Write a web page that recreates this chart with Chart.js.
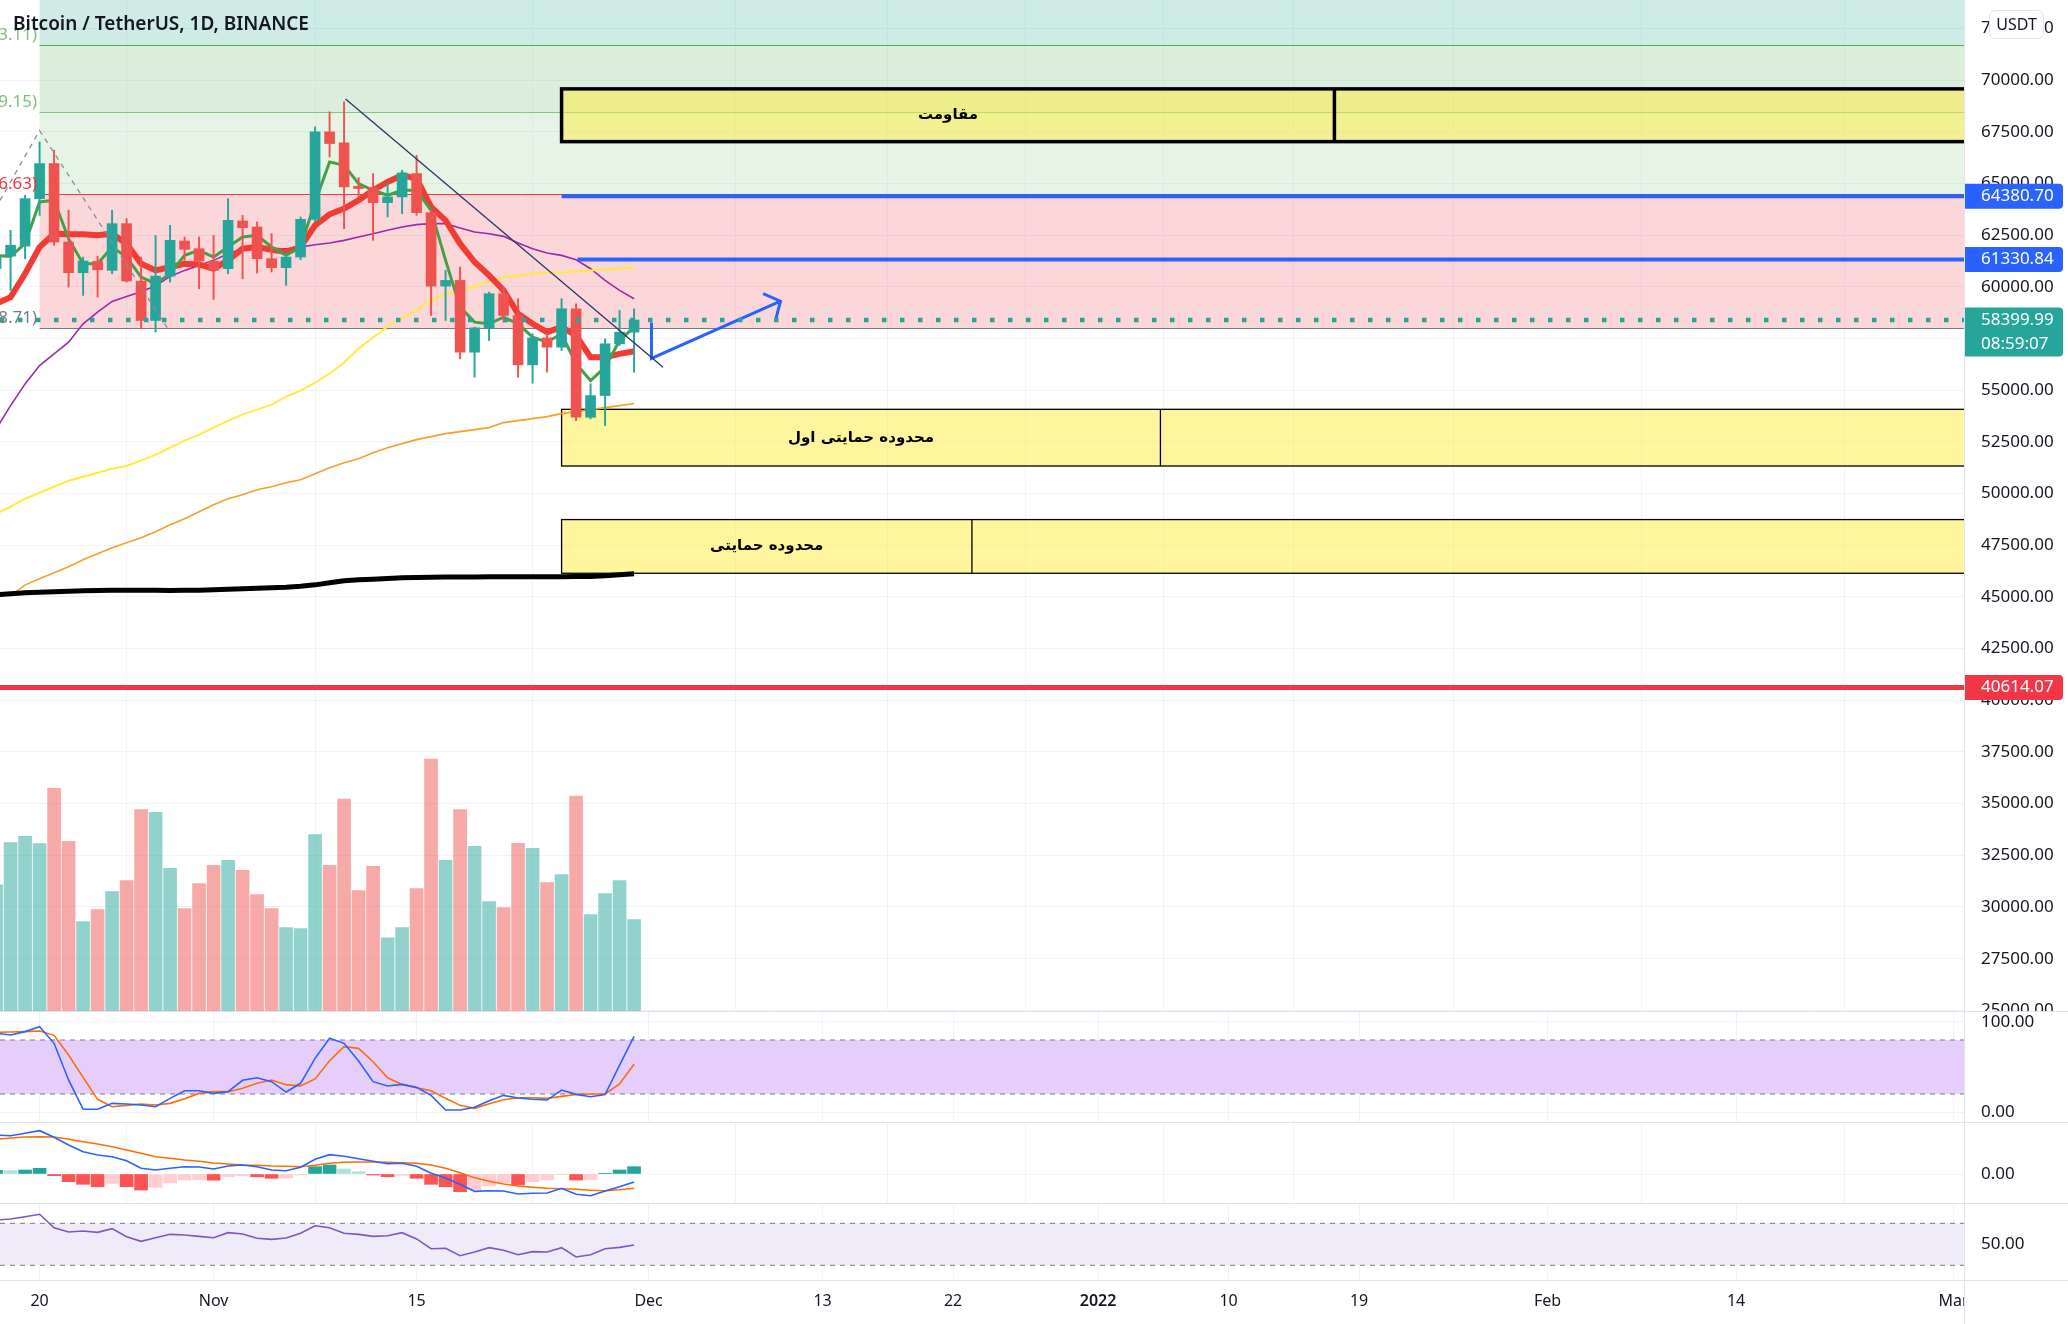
<!DOCTYPE html>
<html>
<head>
<meta charset="utf-8">
<title>BTCUSDT 1D</title>
<script src="https://cdn.jsdelivr.net/npm/chart.js@4.4.1/dist/chart.umd.min.js"></script>
<style>
  html, body { margin: 0; padding: 0; background: #ffffff; }
  #wrap { position: relative; width: 2068px; height: 1324px; overflow: hidden; background: #ffffff; }
  #wrap canvas { position: absolute; left: 0; }
</style>
</head>
<body>
<div id="wrap">
  <canvas id="mainPane" width="2068" height="1012" style="top:0px"></canvas>
  <canvas id="stochPane" width="2068" height="111" style="top:1012px"></canvas>
  <canvas id="macdPane" width="2068" height="81" style="top:1123px"></canvas>
  <canvas id="rsiPane" width="2068" height="120" style="top:1204px"></canvas>
</div>
<script>
// candles, one per day
const dates = [
  '2021-10-17', '2021-10-18', '2021-10-19', '2021-10-20', '2021-10-21', '2021-10-22', '2021-10-23',
  '2021-10-24', '2021-10-25', '2021-10-26', '2021-10-27', '2021-10-28', '2021-10-29', '2021-10-30',
  '2021-10-31', '2021-11-01', '2021-11-02', '2021-11-03', '2021-11-04', '2021-11-05', '2021-11-06',
  '2021-11-07', '2021-11-08', '2021-11-09', '2021-11-10', '2021-11-11', '2021-11-12', '2021-11-13',
  '2021-11-14', '2021-11-15', '2021-11-16', '2021-11-17', '2021-11-18', '2021-11-19', '2021-11-20',
  '2021-11-21', '2021-11-22', '2021-11-23', '2021-11-24', '2021-11-25', '2021-11-26', '2021-11-27',
  '2021-11-28', '2021-11-29', '2021-11-30'
];
const openP = [60900, 61493, 61977, 64271, 65967, 62171, 60685, 61235, 60799, 63060, 60282, 58376, 60524, 62220, 61848,
  61250, 60880, 63189, 62898, 61364, 60928, 61444, 63270, 67501, 66968, 64868, 64804, 64077, 64352, 65482,
  63592, 60040, 60314, 56842, 58020, 59668, 58618, 56228, 57536, 57084, 58941, 53692, 54742, 57246, 57810];
const highP = [61800, 62736, 64432, 67016, 66613, 63705, 61444, 61477, 63705, 63302, 61444, 62494, 62979, 62413, 62413,
  62494, 64271, 63463, 63140, 62575, 61606, 63383, 67743, 68470, 68954, 65288, 65482, 64998, 65643, 66370,
  63705, 60798, 60960, 58053, 59749, 59991, 59426, 57730, 57730, 59426, 59184, 55308, 57488, 58860, 58941];
const lowP = [60500, 59830, 61364, 63463, 62010, 59991, 59588, 59507, 60637, 60233, 57972, 57811, 60233, 61283, 59910,
  59394, 60637, 60395, 60669, 60718, 60072, 61315, 63140, 66290, 62817, 64352, 62252, 63383, 63544, 63463,
  58618, 58376, 56519, 55630, 57407, 58295, 55630, 55340, 55873, 56923, 53531, 53612, 53289, 57165, 55873];
const closeP = [61450, 62010, 64271, 65967, 62171, 60685, 61251, 60831, 63060, 60282, 58376, 60524, 62252, 61816, 61251,
  60800, 63221, 62866, 61364, 60928, 61444, 63270, 67501, 66936, 64836, 64755, 64077, 64352, 65514, 63592,
  60040, 60314, 56842, 58020, 59668, 58618, 56228, 57536, 57084, 58941, 53692, 54742, 57246, 57810, 58400];
const volume = [40540, 53980, 56000, 53660, 71260, 54400, 28800, 32640, 38400, 41920, 64540, 63680, 45760, 32960, 40960,
  46720, 48320, 45120, 37440, 32960, 26880, 26560, 56540, 46720, 67840, 38720, 46400, 23680, 26880, 39360,
  80640, 48320, 64540, 52800, 35200, 33280, 53760, 52160, 41280, 43840, 68800, 31040, 37760, 41920, 29440];

// moving averages on the price pane
const emaFast = [61525, 61477, 62090, 64109, 64190, 62333, 61122, 61122, 61929, 61445, 60476, 60153, 60637, 61525, 61767,
  61445, 61929, 62414, 62494, 61929, 61525, 61929, 64109, 66047, 65886, 64998, 64675, 64432, 64675, 64675,
  63705, 61283, 59022, 58295, 58215, 58537, 58215, 57569, 57326, 57731, 56277, 55469, 56115, 57407, 58053];
const emaSlow = [59184, 59506, 60637, 61929, 62575, 62543, 62543, 62494, 62575, 62090, 61122, 60799, 60960, 61122, 61090,
  60880, 61283, 61848, 61929, 61800, 61687, 61929, 62979, 63512, 63786, 64190, 64675, 65078, 65401, 65240,
  63867, 63221, 62090, 61202, 60556, 59830, 58699, 58215, 57811, 58053, 57649, 56600, 56600, 56761, 56890];
const maPurple = [53127, 54257, 55308, 56196, 56761, 57326, 58214, 58780, 59297, 59539, 59765, 60056, 60508, 60799, 61041,
  61283, 61606, 61848, 61848, 61848, 61848, 61929, 62042, 62123, 62252, 62414, 62575, 62737, 62898, 63011,
  63060, 63060, 62850, 62656, 62575, 62446, 62123, 61848, 61638, 61525, 61315, 60879, 60314, 59830, 59426];
const maYellow = [49025, 49364, 49752, 50043, 50333, 50624, 50818, 51012, 51206, 51351, 51593, 51884, 52223, 52562, 52853,
  53192, 53531, 53822, 54064, 54306, 54694, 54985, 55373, 55808, 56341, 57020, 57553, 58085, 58473, 58861,
  59345, 59636, 59830, 60023, 60266, 60460, 60556, 60653, 60702, 60702, 60750, 60799, 60847, 60896, 60944];
const maOrange = [null, 45052, 45585, 45876, 46167, 46457, 46796, 47087, 47378, 47620, 47862, 48153, 48492, 48783, 49122,
  49461, 49752, 49946, 50188, 50333, 50527, 50672, 50963, 51254, 51496, 51690, 51981, 52223, 52417, 52610,
  52756, 52901, 52998, 53095, 53192, 53434, 53531, 53628, 53725, 53870, 53967, 54064, 54161, 54258, 54355];
const maBlack = [45101, 45150, 45198, 45222, 45246, 45271, 45295, 45309, 45329, 45329, 45329, 45319, 45314, 45319, 45329,
  45343, 45367, 45392, 45416, 45440, 45464, 45513, 45585, 45683, 45779, 45828, 45862, 45896, 45925, 45939,
  45958, 45962, 45966, 45970, 45972, 45975, 45977, 45979, 45980, 45982, 45984, 45986, 46021, 46070, 46118];

// indicators
const stochK = [87.4, 85.6, 89.3, 94.8, 76.3, 35.6, 3.0, 3.0, 9.6, 8.9, 7.8, 5.9, 15.2, 23.7, 23.7,
  20.7, 22.6, 35.2, 38.1, 33.7, 22.2, 31.9, 59.6, 81.9, 76.3, 56.7, 33.7, 28.9, 30.7, 27.4,
  18.5, 2.2, 2.2, 5.2, 12.6, 18.5, 15.6, 14.1, 13.3, 24.4, 19.6, 17.0, 19.3, 52.0, 84.0];
const stochD = [88.5, 88.9, 89.3, 90.0, 85.2, 63.3, 38.5, 14.1, 5.9, 7.4, 8.9, 7.8, 9.6, 14.8, 20.7,
  22.6, 22.6, 26.3, 31.9, 35.6, 30.4, 28.9, 36.7, 57.0, 72.6, 70.7, 55.9, 38.1, 30.7, 27.0,
  23.7, 15.2, 7.4, 4.1, 9.3, 13.7, 15.9, 15.9, 15.2, 17.4, 19.6, 20.0, 20.0, 31.1, 53.0];
const macdLine = [975, 958, 1017, 1083, 917, 725, 558, 475, 433, 333, 142, 100, 142, 183, 175,
  125, 200, 225, 183, 100, 83, 167, 367, 483, 442, 383, 317, 258, 267, 192,
  17, -100, -258, -433, -417, -425, -500, -483, -475, -358, -508, -542, -425, -317, -200];
const macdSignal = [867, 900, 925, 933, 925, 867, 808, 750, 683, 600, 517, 433, 392, 350, 317,
  275, 250, 225, 217, 200, 192, 183, 217, 267, 292, 300, 300, 292, 283, 267,
  225, 142, 33, -92, -183, -250, -300, -333, -358, -367, -383, -408, -417, -392, -358];
const macdHist = [92, 83, 100, 142, -42, -192, -258, -317, -233, -317, -400, -333, -217, -150, -145,
  -155, -67, -42, -67, -108, -100, -25, 183, 225, 125, 58, -25, -67, -33, -108,
  -258, -317, -442, -400, -300, -217, -275, -192, -150, -8, -150, -145, 8, 100, 183];
const rsi = [73.1, 74.1, 76.3, 78.6, 65.8, 61.7, 62.7, 61.4, 64.9, 57.3, 52.8, 56.3, 59.5, 58.9, 57.6,
  56.3, 61.1, 59.8, 55.7, 54.7, 56.0, 60.5, 67.7, 65.8, 60.5, 59.5, 57.6, 58.2, 61.1, 55.1,
  45.8, 46.2, 39.1, 42.7, 46.8, 44.3, 40.1, 43.0, 42.7, 46.8, 37.9, 40.1, 45.8, 47.1, 49.3];

// axis ticks
const tickDates = ['2021-10-20', '2021-11-01', '2021-11-15', '2021-12-01', '2021-12-13', '2021-12-22',
  '2022-01-01', '2022-01-10', '2022-01-19', '2022-02-01', '2022-02-14', '2022-03-01'];
const tickLabels = ['20', 'Nov', '15', 'Dec', '13', '22', '2022', '10', '19', 'Feb', '14', 'Mar'];
const priceTicks = [25000, 27500, 30000, 32500, 35000, 37500, 40000, 42500, 45000, 47500, 50000,
  52500, 55000, 57500, 60000, 62500, 65000, 67500, 70000, 72500];

// drawings (x in days after 20 Oct 2021, y in USDT)
const fibStartDay = 0;
const fibLevels = [71700, 68454, 64481, 57988];
const fibLabels = ['0.786(71703.11)', '0.618(68459.15)', '0.5(64486.63)', '0.236(57988.71)'];
const boxLabels = ['مقاومت', 'محدوده حمایتی اول', 'محدوده حمایتی'];
const boxTop = [69580, 54077, 48743];
const boxBottom = [67028, 51334, 46146];
const boxStartDay = 36;
const boxSplitDay = [89.3, 77.3, 64.3];
const blueLevels = [64380.70, 61330.84];
const blueStartDay = [36, 37.1];
const redLevel = 40614.07;
const lastPrice = 58399.99;
const countdown = '08:59:07';
const zigzagDay = [-2.73, 0, 8.8];
const zigzagPrice = [64183, 67564, 58033];
const trendDay = [21.1, 43.0];
const trendPrice = [69088, 56114];
const arrowDay = [42.2, 42.2, 51.1];
const arrowPrice = [58282, 56539, 59306];
const arrowHeadDay = [49.9, 51.1, 50.75];
const arrowHeadPrice = [59679, 59306, 58376];
const titleText = 'Bitcoin / TetherUS, 1D, BINANCE';

// view and style
const FONT = '"Noto Sans", "DejaVu Sans", sans-serif';
const TEXT = '#131722';
const GRID = '#f0f3fa';
const SEP = '#e0e3eb';
const UP = '#26a69a';
const DOWN = '#ef5350';
const AXIS_W = 104;
const X_MIN = -2.73, X_MAX = 132.72;
const PRICE_MIN = 24920, PRICE_MAX = 73880;
const fibFill = ['rgba(8,153,129,0.2)', 'rgba(76,175,80,0.2)', 'rgba(129,199,132,0.2)', 'rgba(242,54,69,0.2)'];
const fibLine = ['#4caf50', '#81c784', '#f23645', '#787b86'];
const fibText = ['#7fbf82', '#7fbf82', '#f23645', '#6f7f80'];
const boxBorder = [3.5, 1.3, 1.3];

const DAY0 = Date.UTC(2021, 9, 20);
function dayOf(s) {
  const [yy, mm, dd] = s.split('-').map(Number);
  return (Date.UTC(yy, mm - 1, dd) - DAY0) / 86400000;
}
const days = dates.map(dayOf);
const tickDays = tickDates.map(dayOf);

const pts = vals => days.map((d, i) => ({ x: d, y: vals[i] }));
const seg = (xs, ys) => xs.map((v, i) => ({ x: v, y: ys[i] }));
const candleColor = closeP.map((c, i) => c >= openP[i] ? UP : DOWN);
const volColor = closeP.map((c, i) => c >= openP[i] ? 'rgba(38,166,154,0.5)' : 'rgba(239,83,80,0.5)');
const histColor = macdHist.map((v, i) => {
  const prev = i > 0 ? macdHist[i - 1] : v;
  if (v >= 0) return v >= prev ? '#26a69a' : '#b2dfdb';
  return v < prev ? '#ff5252' : '#ffcdd2';
});

function lineSet(data, color, width, order, extra) {
  return Object.assign({ type: 'line', data: data, borderColor: color, borderWidth: width,
    pointRadius: 0, tension: 0, fill: false, order: order }, extra || {});
}

// no extra room for edge labels, panes must line up exactly
function noPad(ax) {
  ax.paddingTop = 0; ax.paddingBottom = 0; ax.paddingLeft = 0; ax.paddingRight = 0;
}

function makeX(showLabels) {
  return {
    type: 'linear', min: X_MIN, max: X_MAX, offset: false,
    afterBuildTicks: ax => { ax.ticks = tickDays.map(v => ({ value: v })); },
    afterFit: ax => { ax.height = showLabels ? 44 : 0; noPad(ax); },
    grid: { color: GRID, drawTicks: false },
    border: { display: false },
    ticks: {
      display: showLabels, autoSkip: false, maxRotation: 0, padding: 12, color: TEXT,
      font: c => ({ family: FONT, size: 16, weight: tickLabels[c.index] === '2022' ? '600' : '400' }),
      callback: (v, i) => tickLabels[i]
    }
  };
}

function makeY(min, max, ticks) {
  return {
    position: 'right', min: min, max: max,
    afterBuildTicks: ax => { ax.ticks = ticks.map(v => ({ value: v })); },
    afterFit: ax => { ax.width = AXIS_W; noPad(ax); },
    grid: { color: GRID, drawTicks: false },
    border: { display: false },
    ticks: { padding: 17, color: TEXT, font: { family: FONT, size: 17 }, callback: v => v.toFixed(2) }
  };
}

function baseOptions(scales, frame) {
  return {
    responsive: false, animation: false, events: [],
    layout: { padding: 0 },
    plugins: { legend: { display: false }, tooltip: { enabled: false }, paneFrame: frame || {} },
    scales: scales
  };
}

// pane borders and the price axis line
const paneFrame = {
  id: 'paneFrame',
  afterDraw(chart, args, opts) {
    const { ctx, chartArea: a, width, height } = chart;
    ctx.save();
    if (opts.cutRight) {
      ctx.fillStyle = '#ffffff';
      ctx.fillRect(a.right + 1, a.bottom + 1, width - a.right, height - a.bottom);
    }
    ctx.strokeStyle = SEP;
    ctx.lineWidth = 1;
    const by = Math.min(a.bottom, height - 1) + 0.5;
    ctx.beginPath();
    ctx.moveTo(a.right + 0.5, 0); ctx.lineTo(a.right + 0.5, height);
    ctx.moveTo(0, by); ctx.lineTo(width, by);
    ctx.stroke();
    ctx.restore();
  }
};

function priceTag(ctx, left, cy, bg, lines) {
  const h = 25 + (lines.length - 1) * 24;
  ctx.fillStyle = bg;
  ctx.beginPath();
  ctx.roundRect(left, cy - 12.5, 99, h, [0, 4, 4, 0]);
  ctx.fill();
  ctx.fillStyle = '#ffffff';
  ctx.font = '17px ' + FONT;
  ctx.textAlign = 'left';
  ctx.textBaseline = 'middle';
  lines.forEach((t, i) => ctx.fillText(t, left + 17, cy + i * 24));
}

const mainDecor = {
  id: 'mainDecor',
  beforeDatasetsDraw(chart) {
    const { ctx, chartArea: a, scales: { x, y } } = chart;
    ctx.save();
    ctx.beginPath();
    ctx.rect(a.left, a.top, a.right - a.left, a.bottom - a.top);
    ctx.clip();

    // fib zones
    const fx = x.getPixelForValue(fibStartDay);
    let top = a.top;
    fibLevels.forEach((lvl, i) => {
      const py = y.getPixelForValue(lvl);
      ctx.fillStyle = fibFill[i];
      ctx.fillRect(fx, top, a.right - fx, py - top);
      top = py;
    });
    fibLevels.forEach((lvl, i) => {
      const py = Math.round(y.getPixelForValue(lvl)) + 0.5;
      ctx.strokeStyle = fibLine[i];
      ctx.lineWidth = 1;
      ctx.beginPath(); ctx.moveTo(fx, py); ctx.lineTo(a.right, py); ctx.stroke();
    });

    // yellow zones with labels
    boxLabels.forEach((txt, i) => {
      const x1 = x.getPixelForValue(boxStartDay), x2 = a.right + 20;
      const xs = x.getPixelForValue(boxSplitDay[i]);
      const y1 = y.getPixelForValue(boxTop[i]), y2 = y.getPixelForValue(boxBottom[i]);
      ctx.fillStyle = 'rgba(255,235,59,0.5)';
      ctx.fillRect(x1, y1, x2 - x1, y2 - y1);
      ctx.strokeStyle = '#000000';
      ctx.lineWidth = boxBorder[i];
      ctx.strokeRect(x1, y1, x2 - x1, y2 - y1);
      ctx.beginPath(); ctx.moveTo(xs, y1); ctx.lineTo(xs, y2); ctx.stroke();
      ctx.fillStyle = '#000000';
      ctx.font = 'bold 15px "DejaVu Sans", serif';
      ctx.textAlign = 'center';
      ctx.textBaseline = 'middle';
      ctx.fillText(txt, (x1 + xs) / 2, (y1 + y2) / 2);
    });
    ctx.restore();
  },
  afterDatasetsDraw(chart) {
    const { ctx, chartArea: a, scales: { x, y } } = chart;
    ctx.save();
    ctx.beginPath();
    ctx.rect(a.left, a.top, a.right - a.left, a.bottom - a.top);
    ctx.clip();

    // last price line
    const lp = y.getPixelForValue(lastPrice);
    ctx.setLineDash([4.5, 13.5]);
    ctx.lineWidth = 4.5;
    ctx.strokeStyle = UP;
    ctx.beginPath(); ctx.moveTo(a.left, lp); ctx.lineTo(a.right, lp); ctx.stroke();
    ctx.setLineDash([]);

    // horizontal levels
    blueLevels.forEach((p, i) => {
      const py = y.getPixelForValue(p);
      ctx.strokeStyle = '#2962ff';
      ctx.lineWidth = 4;
      ctx.beginPath(); ctx.moveTo(x.getPixelForValue(blueStartDay[i]), py); ctx.lineTo(a.right, py); ctx.stroke();
    });
    const ry = y.getPixelForValue(redLevel);
    ctx.strokeStyle = '#f23645';
    ctx.lineWidth = 5;
    ctx.beginPath(); ctx.moveTo(a.left, ry); ctx.lineTo(a.right, ry); ctx.stroke();
    ctx.restore();
  },
  afterDraw(chart) {
    const { ctx, chartArea: a, scales: { y } } = chart;
    ctx.save();

    // fib level labels, cut at the left edge
    ctx.font = '17px ' + FONT;
    ctx.textAlign = 'right';
    ctx.textBaseline = 'middle';
    fibLevels.forEach((lvl, i) => {
      ctx.fillStyle = fibText[i];
      ctx.fillText(fibLabels[i], 37, y.getPixelForValue(lvl) - 10);
    });

    // symbol title
    ctx.font = '600 19px ' + FONT;
    ctx.fillStyle = TEXT;
    ctx.textAlign = 'left';
    ctx.fillText(titleText, 13, 25);

    // price tags on the axis
    priceTag(ctx, a.right, y.getPixelForValue(blueLevels[0]), '#2962ff', [blueLevels[0].toFixed(2)]);
    priceTag(ctx, a.right, y.getPixelForValue(blueLevels[1]), '#2962ff', [blueLevels[1].toFixed(2)]);
    priceTag(ctx, a.right, y.getPixelForValue(lastPrice), UP, [lastPrice.toFixed(2), countdown]);
    priceTag(ctx, a.right, y.getPixelForValue(redLevel), '#f23645', [redLevel.toFixed(2)]);

    // currency badge
    ctx.fillStyle = '#ffffff';
    ctx.strokeStyle = SEP;
    ctx.lineWidth = 1;
    ctx.beginPath();
    ctx.roundRect(1989.5, 10.5, 54, 28, 6);
    ctx.fill(); ctx.stroke();
    ctx.fillStyle = TEXT;
    ctx.font = '16px ' + FONT;
    ctx.textAlign = 'center';
    ctx.fillText('USDT', 2016.5, 25);
    ctx.restore();
  }
};

new Chart(document.getElementById('mainPane'), {
  type: 'bar',
  data: {
    datasets: [
      { label: 'Volume', data: pts(volume), yAxisID: 'yv', backgroundColor: volColor,
        barThickness: 13, grouped: false, order: 10 },
      lineSet(pts(maBlack), '#000000', 5, 6),
      lineSet(pts(maOrange), '#f5a128', 1.6, 6),
      lineSet(pts(maYellow), '#ffeb3b', 2, 6),
      lineSet(pts(maPurple), '#9c27b0', 1.6, 6),
      lineSet(pts(emaSlow), '#f23b32', 6, 5),
      lineSet(pts(emaFast), '#43a047', 3, 4),
      { label: 'Wick', data: days.map((d, i) => ({ x: d, y: [lowP[i], highP[i]] })),
        backgroundColor: candleColor, barThickness: 1.3, grouped: false, order: 2 },
      { label: 'Body', data: days.map((d, i) => ({ x: d, y: [openP[i], closeP[i]] })),
        backgroundColor: candleColor, barThickness: 10, grouped: false, order: 1 },
      lineSet(seg(zigzagDay, zigzagPrice), '#8a8d96', 1.3, 0, { borderDash: [5, 5] }),
      lineSet(seg(trendDay, trendPrice), '#2a3268', 1.3, 0),
      lineSet(seg(arrowDay, arrowPrice), '#2962ff', 3, 0),
      lineSet(seg(arrowHeadDay, arrowHeadPrice), '#2962ff', 3, 0)
    ]
  },
  options: baseOptions({
    x: makeX(false),
    y: makeY(PRICE_MIN, PRICE_MAX, priceTicks),
    yv: { display: false, position: 'left', min: 0, max: Math.max(...volume) * 4 }
  }),
  plugins: [mainDecor, paneFrame]
});

// stochastic RSI
new Chart(document.getElementById('stochPane'), {
  type: 'line',
  data: {
    datasets: [
      lineSet(seg([X_MIN, X_MAX], [80, 80]), '#787b86', 1, 3, { borderDash: [5, 5] }),
      lineSet(seg([X_MIN, X_MAX], [20, 20]), '#787b86', 1, 3, { borderDash: [5, 5], fill: '-1', backgroundColor: '#e6cefc' }),
      lineSet(pts(stochD), '#ff6d00', 1.6, 1),
      lineSet(pts(stochK), '#2962ff', 1.6, 0)
    ]
  },
  options: baseOptions({ x: makeX(false), y: makeY(-12.2, 111.1, [0, 100]) }),
  plugins: [paneFrame]
});

// MACD
new Chart(document.getElementById('macdPane'), {
  type: 'bar',
  data: {
    datasets: [
      { label: 'Histogram', data: pts(macdHist), backgroundColor: histColor, barThickness: 13, grouped: false, order: 3 },
      lineSet(pts(macdSignal), '#ff6d00', 1.6, 1),
      lineSet(pts(macdLine), '#2962ff', 1.6, 0)
    ]
  },
  options: baseOptions({ x: makeX(false), y: makeY(-750, 1275, [0]) }),
  plugins: [paneFrame]
});

// RSI with the time axis
new Chart(document.getElementById('rsiPane'), {
  type: 'line',
  data: {
    datasets: [
      lineSet(seg([X_MIN, X_MAX], [70, 70]), '#787b86', 1, 3, { borderDash: [5, 5] }),
      lineSet(seg([X_MIN, X_MAX], [30, 30]), '#787b86', 1, 3, { borderDash: [5, 5], fill: '-1', backgroundColor: '#f0ebf8' }),
      lineSet(seg([X_MIN, X_MAX], [50, 50]), 'rgba(120,123,134,0.5)', 1, 3, { borderDash: [5, 5] }),
      lineSet(pts(rsi), '#7e57c2', 1.6, 0)
    ]
  },
  options: baseOptions({ x: makeX(true), y: makeY(16.0, 88.4, [50]) }, { cutRight: true }),
  plugins: [paneFrame]
});
</script>
</body>
</html>
